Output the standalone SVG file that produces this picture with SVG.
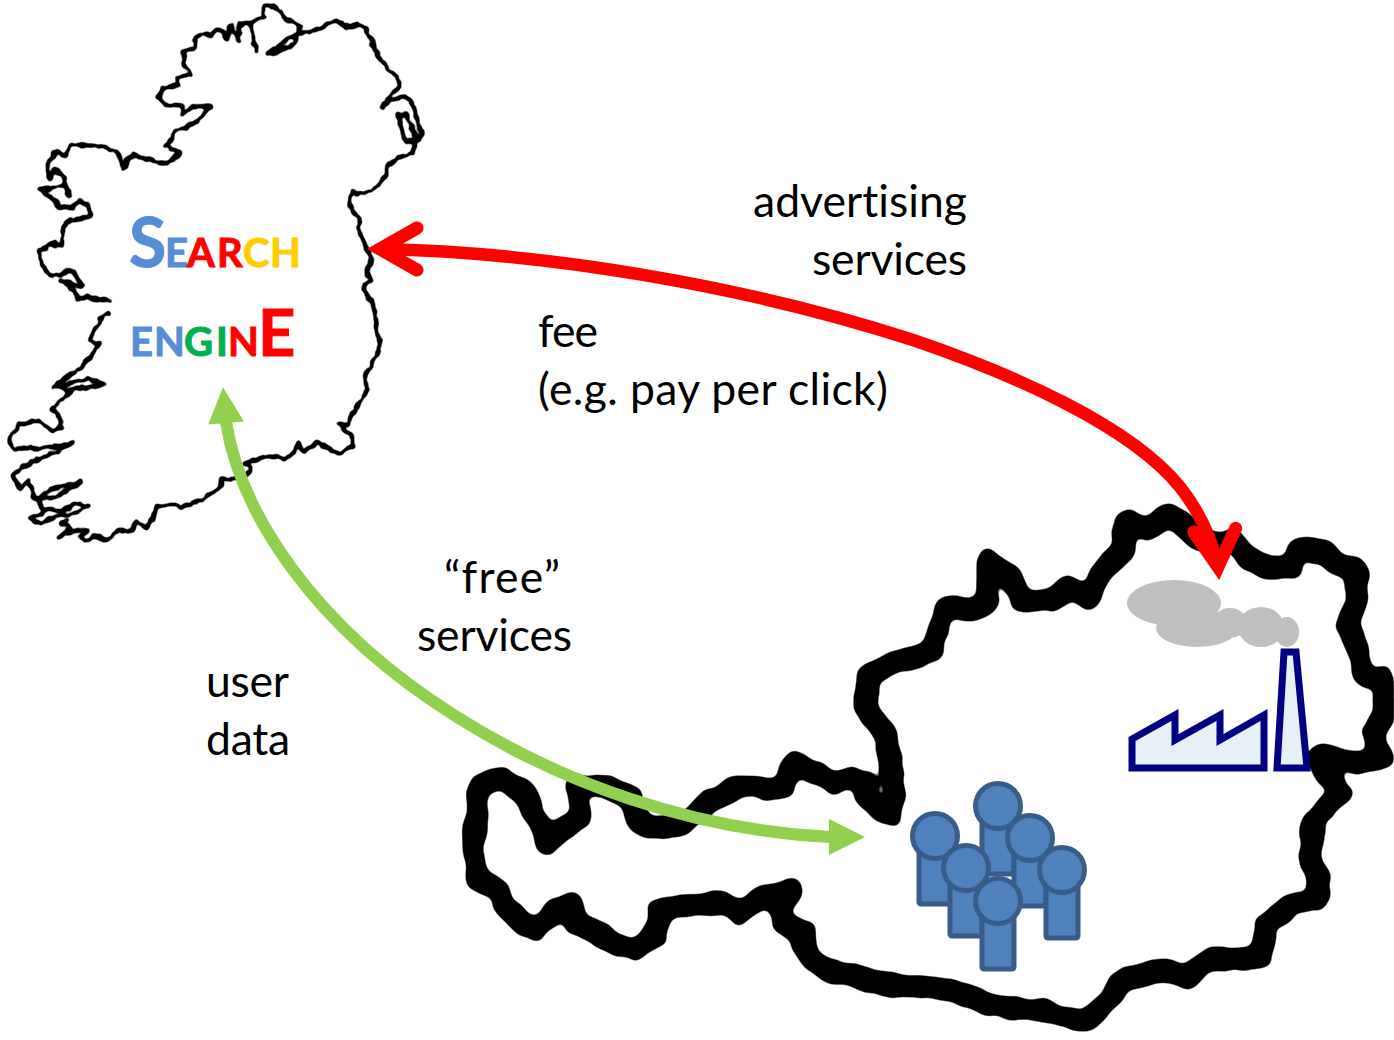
<svg xmlns="http://www.w3.org/2000/svg" width="1394" height="1040" viewBox="0 0 1394 1040">
<style>
text{font-family:Lato,"Liberation Sans",sans-serif;fill:#000;font-variant-ligatures:none}
.lbl{font-size:44.5px}
.t{font-weight:700;font-size:40px;stroke-width:1px}
.bl{fill:#558ed5;stroke:#558ed5}.rd{fill:#f00;stroke:#f00}.yl{fill:#fc0;stroke:#fc0}.gn{fill:#00b050;stroke:#00b050}
.ie{fill:none;stroke:#000;stroke-width:11;stroke-linejoin:round;stroke-linecap:round}
.at{fill:none;stroke:#000;stroke-width:23;stroke-linejoin:round;stroke-linecap:round}
.pp rect,.pp circle{fill:#4f81bd;stroke:#385d8a;stroke-width:5}
.fc{fill:#e8f0f7;stroke:#000080;stroke-width:7}
.sm{fill:#bfbfbf}
</style>
<defs>
<filter id="soft" filterUnits="userSpaceOnUse" x="0" y="0" width="1394" height="1040" color-interpolation-filters="sRGB"><feTurbulence type="fractalNoise" baseFrequency=".11" numOctaves="2" seed="4" result="n"/><feDisplacementMap in="SourceGraphic" in2="n" scale="7" xChannelSelector="R" yChannelSelector="G"/><feGaussianBlur stdDeviation=".8"/><feColorMatrix type="matrix" values="0 0 0 0 0 0 0 0 0 0 0 0 0 0 0 0 0 0 2.4 -.4"/></filter>
<filter id="goo" filterUnits="userSpaceOnUse" x="0" y="0" width="1394" height="1040" color-interpolation-filters="sRGB"><feTurbulence type="fractalNoise" baseFrequency=".05" numOctaves="2" seed="7" result="n"/><feDisplacementMap in="SourceGraphic" in2="n" scale="9" xChannelSelector="R" yChannelSelector="G"/><feGaussianBlur stdDeviation="3.5"/><feColorMatrix type="matrix" values="0 0 0 0 0 0 0 0 0 0 0 0 0 0 0 0 0 0 7 -3"/></filter>
<marker id="redstart" markerUnits="userSpaceOnUse" markerWidth="100" markerHeight="80" refX="0" refY="0" viewBox="-60 -40 100 80" orient="180"><path d="M-37 -21L0 0L-37 21" fill="none" stroke="#f00" stroke-width="13" stroke-linecap="round" stroke-linejoin="miter"/></marker>
<marker id="redend" markerUnits="userSpaceOnUse" markerWidth="100" markerHeight="80" refX="0" refY="0" viewBox="-60 -40 100 80" orient="85"><path d="M-37 -21L0 0L-37 21" fill="none" stroke="#f00" stroke-width="13" stroke-linecap="round" stroke-linejoin="miter"/></marker>
<marker id="greenstart" markerUnits="userSpaceOnUse" markerWidth="40" markerHeight="40" refX="1" refY="0" viewBox="-2 -20 40 40" orient="-95"><path d="M0 -18L36 0L0 18z" fill="#92d050"/></marker>
<marker id="greenend" markerUnits="userSpaceOnUse" markerWidth="40" markerHeight="40" refX="1" refY="0" viewBox="-2 -20 40 40" orient="0"><path d="M0 -18L36 0L0 18z" fill="#92d050"/></marker>
<g id="person" class="pp"><rect x="-16" y="0" width="32" height="68" rx="2"/><circle r="22.5"/></g>
</defs>
<g id="ireland" filter="url(#soft)"><g transform="scale(.33333)">
<path class="ie" d="M790 15L830 25L850 50L880 65L900 80L890 100L925 100L960 85L1000 62L1050 85L1075 70L1100 85L1115 125L1135 165L1165 210L1195 228L1198 262L1165 290L1148 322L1170 300L1210 292L1235 300L1250 350L1265 405L1245 430L1240 460L1195 472L1165 495L1155 530L1125 565L1095 582L1055 575L1045 620L1075 650L1080 705L1105 750L1115 790L1100 810L1115 845L1095 850L1090 870L1115 900L1125 940L1135 1000L1140 1050L1120 1080L1095 1125L1100 1165L1075 1215L1040 1275L1015 1272L1055 1305L1060 1340L1015 1360L990 1345L950 1325L915 1355L895 1330L875 1365L850 1375L800 1368L735 1390L750 1410L735 1430L670 1438L650 1470L600 1500L540 1525L510 1512L470 1520L460 1555L440 1585L410 1562L395 1595L350 1595L325 1625L290 1608L250 1625L240 1610L265 1592L235 1585L175 1610L210 1585L185 1570L205 1558"/>
<path class="ie" d="M90 1555L135 1530L190 1530L240 1508L262 1515L230 1540L180 1545L120 1570Z"/>
<path class="ie" d="M130 1525L105 1490L85 1440L60 1465L40 1430L60 1405L190 1345L215 1330L120 1345L40 1345L25 1320L60 1270L120 1265L160 1295L185 1285L180 1250L155 1225L220 1170"/>
<path class="ie" d="M115 1495L150 1470L240 1445L170 1490Z"/>
<path class="ie" d="M160 1160L265 1137L315 1152L220 1170Z"/>
<path class="ie" d="M160 1160L245 1100L270 1075L300 1030L270 1020L300 955L325 935"/>
<path class="ie" d="M330 902L270 895L230 895L220 870L180 840L250 860L215 810L155 830L125 800L120 750L160 730L185 740L190 680L215 660L270 650L265 615L240 600L215 625L175 620L150 585L120 570L195 555L210 590L190 530L165 510L150 540L145 480L170 452L195 470L210 435L280 437L320 445L355 460L370 505L400 460L440 478L500 490L540 460L495 440L530 395L590 365L630 320L580 318L550 345L550 320L495 315L472 290L490 265L530 255L530 235L575 225L550 190L550 155L580 145L585 105L640 105L650 90L685 115L690 75L720 122L715 75L750 70L770 155L750 70L795 50L790 15"/>
<path class="ie" d="M800 165L890 100L880 135Z"/>
<path class="ie" d="M1195 345L1215 340L1255 425L1215 425L1205 385Z"/>
</g></g>
<g id="austria" filter="url(#goo)">
<path class="at" d="M478 787L502 778L527 795L537 820L548 843L565 827L580 817L578 785L607 787L630 797L640 823L650 828L683 825L698 810L707 803L720 797L737 787L783 788L790 770L797 763L823 777L837 783L847 777L867 783L867 798L890 817L895 793L890 763L885 733L867 710L867 677L893 663L930 653L947 607L973 610L988 600L988 560L1012 577L1020 600L1053 602L1067 587L1090 598L1100 573L1123 550L1127 520L1147 528L1167 515L1180 522L1195 537L1220 542L1232 540L1247 557L1267 567L1292 568L1297 550L1307 547L1327 553L1337 565L1355 568L1358 600L1347 623L1357 647L1365 677L1382 677L1385 713L1373 733L1382 757L1353 763L1327 753L1317 757L1327 773L1342 793L1313 820L1312 837L1310 863L1318 877L1317 900L1293 903L1267 923L1260 957L1230 960L1207 960L1187 977L1163 970L1123 980L1110 1000L1085 1022L1040 1010L990 1005L950 990L900 985L883 985L863 977L827 970L812 960L803 943L803 933L783 920L778 907L793 890L770 897L760 897L740 913L727 903L680 905L660 910L655 937L633 950L613 943L593 930L577 925L572 903L557 910L537 930L517 920L503 903L500 890L477 880L473 850L477 823Z"/>
</g>
<g id="search-engine">
<text class="t" y="267"><tspan x="129" class="bl" font-size="68">S</tspan><tspan x="165" class="bl">E</tspan><tspan x="187" class="rd">A</tspan><tspan x="217" class="rd">R</tspan><tspan x="243" class="yl">C</tspan><tspan x="270" class="yl">H</tspan></text>
<text class="t" y="356"><tspan x="130" class="bl">E</tspan><tspan x="154" class="bl">N</tspan><tspan x="184" class="gn">G</tspan><tspan x="216" class="gn">I</tspan><tspan x="228" class="rd">N</tspan><tspan x="258" class="rd" font-size="65">E</tspan></text>
</g>
<g id="smoke" class="sm"><ellipse cx="1174" cy="603" rx="47" ry="23"/><ellipse cx="1197" cy="628" rx="41" ry="19"/><ellipse cx="1230" cy="623" rx="17" ry="15"/><ellipse cx="1261" cy="627" rx="23" ry="20"/><ellipse cx="1287" cy="632" rx="12" ry="15"/></g>
<g id="factory" class="fc"><path d="M1132 768V739L1175 715V740L1220 715V740L1264 715V768Z"/><path d="M1277 768L1284 652H1296L1307 768Z"/></g>
<g id="users">
<use href="#person" x="998" y="806"/><use href="#person" x="1030" y="838"/><use href="#person" x="935" y="836"/><use href="#person" x="1062" y="870"/><use href="#person" x="966" y="868"/><use href="#person" x="998" y="901"/>
</g>
<g id="connectors" fill="none">
<path d="M380 249C540 252 740 284 913 340C1010 373 1130 425 1180 487C1200 512 1212 540 1218 567" stroke="#f00" stroke-width="12.5" marker-start="url(#redstart)" marker-end="url(#redend)"/>
<path d="M226 422C240 510 310 625 457 717C560 782 690 830 830 837" stroke="#92d050" stroke-width="12" marker-start="url(#greenstart)" marker-end="url(#greenend)"/>
</g>
<g id="labels">
<text class="lbl" x="753" y="217" textLength="214">advertising</text>
<text class="lbl" x="812" y="275" textLength="155">services</text>
<text class="lbl" x="538" y="347" textLength="60">fee</text>
<text class="lbl" x="538" y="405" textLength="350">(e.g. pay per click)</text>
<text class="lbl" x="444" y="593" textLength="116">“free”</text>
<text class="lbl" x="417" y="651" textLength="155">services</text>
<text class="lbl" x="206" y="697" textLength="83">user</text>
<text class="lbl" x="206" y="755" textLength="84">data</text>
</g>
</svg>
